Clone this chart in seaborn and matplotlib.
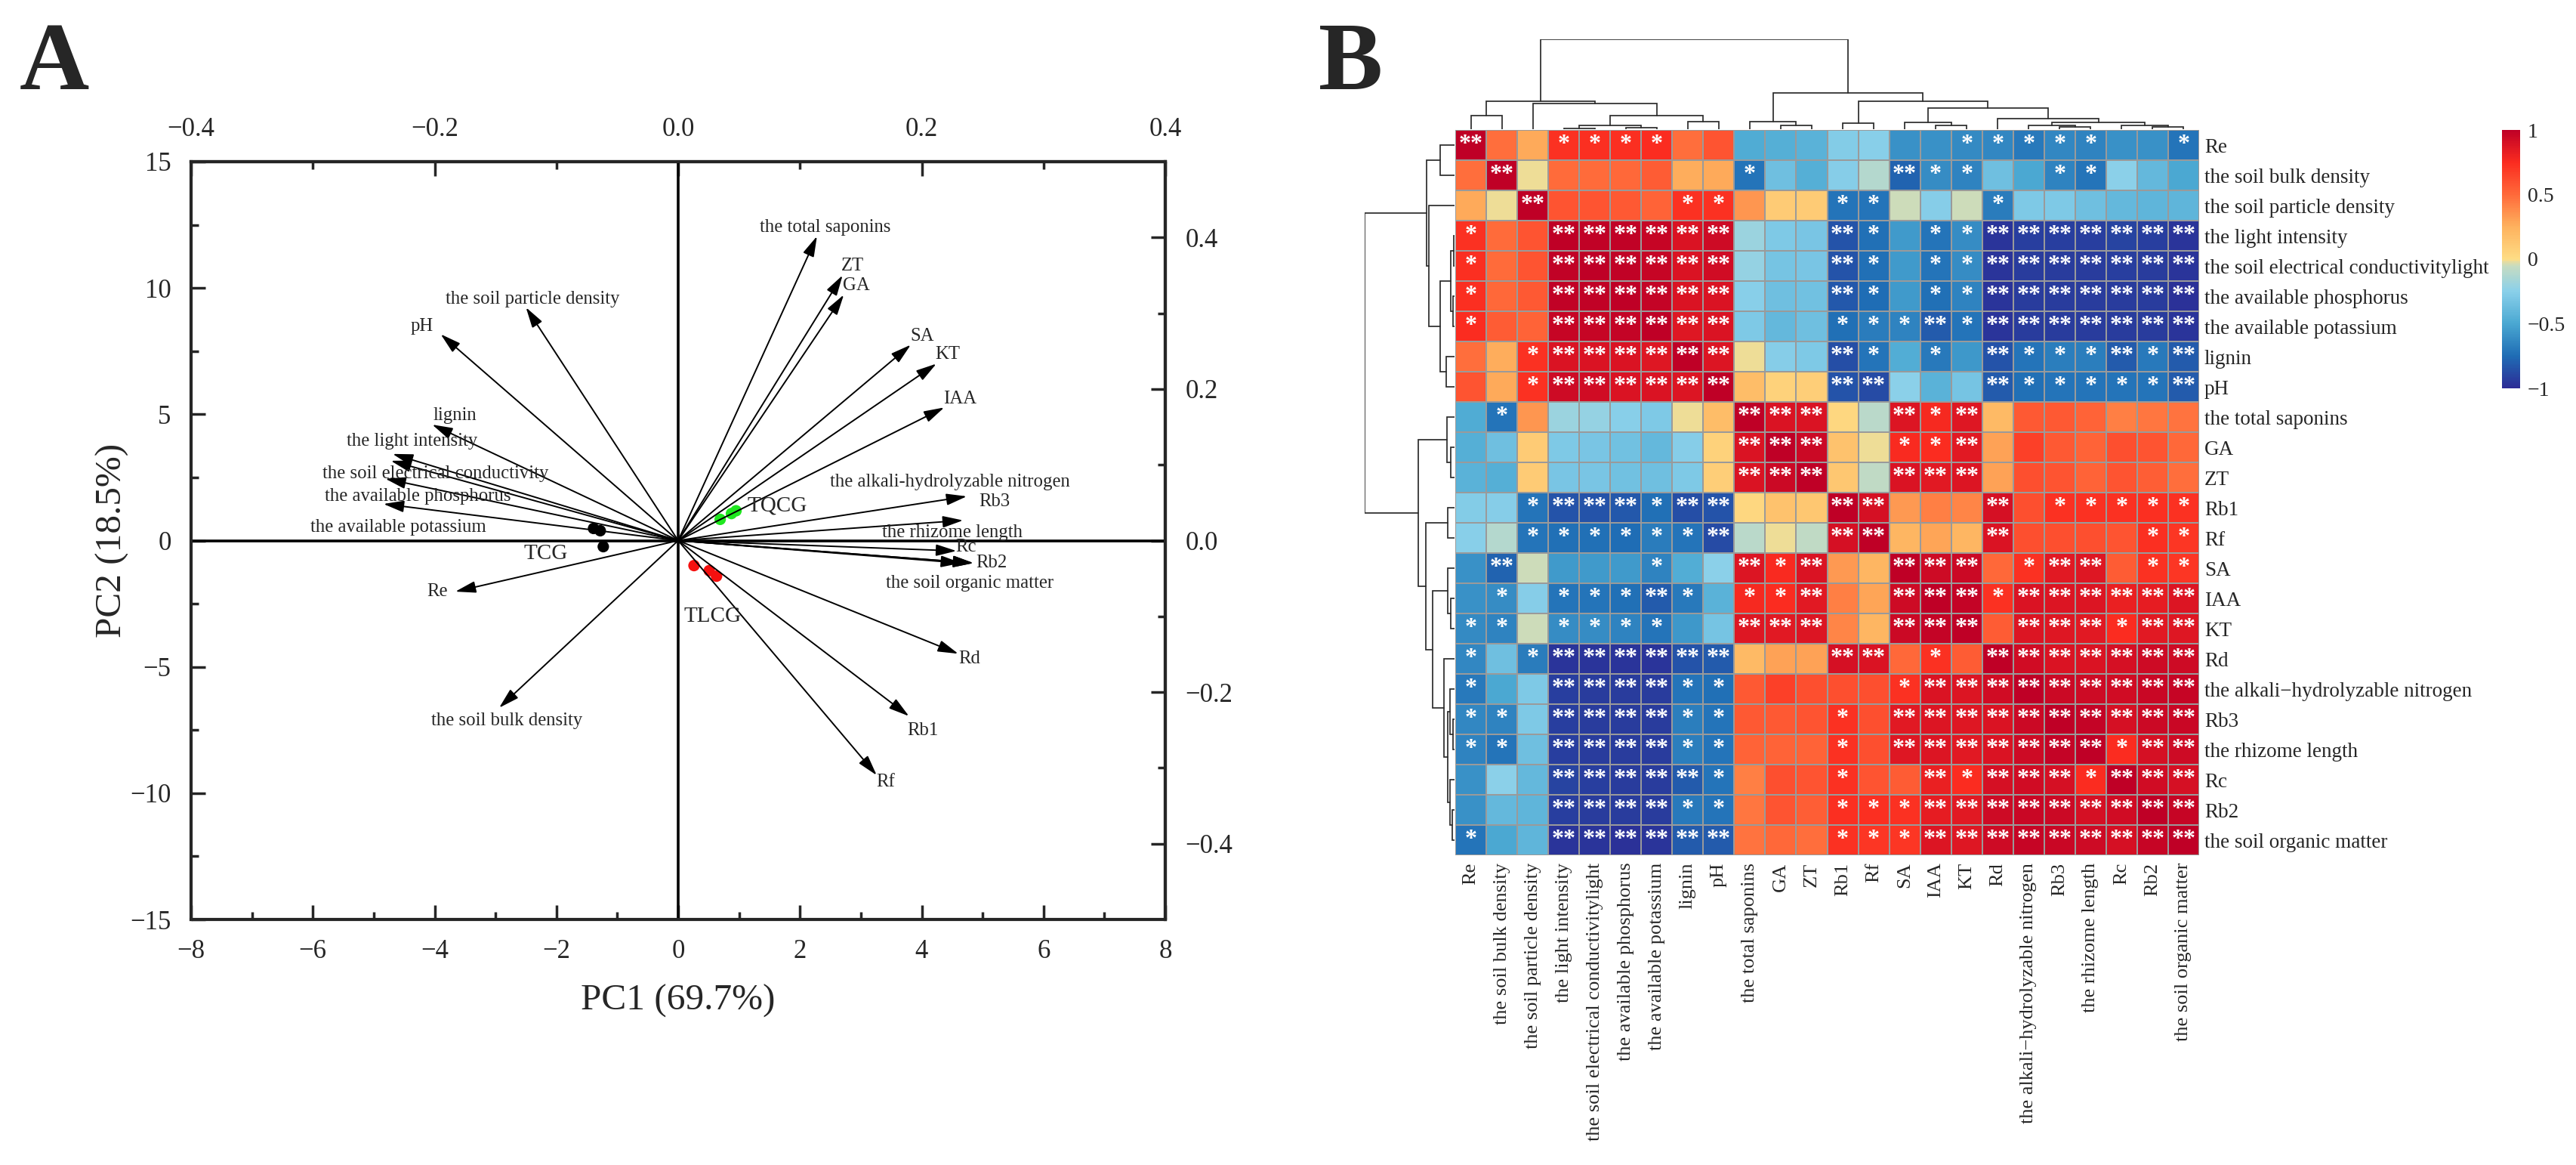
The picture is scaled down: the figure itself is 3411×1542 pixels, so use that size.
import numpy as np
import pandas as pd
import seaborn as sns
import matplotlib.pyplot as plt
from matplotlib.colors import LinearSegmentedColormap
from matplotlib.ticker import FixedLocator

# PCA loadings
var_names = ["Re", "the soil bulk density", "the soil particle density", "the light intensity",
             "the soil electrical conductivity", "the available phosphorus", "the available potassium",
             "lignin", "pH", "the total saponins", "GA", "ZT", "Rb1", "Rf", "SA", "IAA", "KT", "Rd",
             "the alkali-hydrolyzable nitrogen", "Rb3", "the rhizome length", "Rc", "Rb2",
             "the soil organic matter"]
load_pc1 = [-3.66, -2.94, -2.50, -4.69, -4.72, -4.81, -4.84, -4.04, -3.90, 2.28, 2.72, 2.70, 3.79, 3.26,
            3.82, 4.37, 4.24, 4.60, 4.74, 4.68, 4.57, 4.85, 4.85, 4.65]
load_pc2 = [-2.02, -6.62, 9.23, 3.43, 3.16, 2.45, 1.45, 4.59, 8.17, 12.05, 9.73, 10.50, -6.95, -9.29,
            7.75, 5.27, 7.00, -4.48, 1.75, 0.80, -0.41, -0.89, -0.89, -0.89]

# PCA scores
score_group = ["TCG", "TCG", "TCG", "TQCG", "TQCG", "TQCG", "TLCG", "TLCG", "TLCG"]
score_pc1 = [-1.39, -1.28, -1.23, 0.69, 0.875, 0.95, 0.26, 0.51, 0.63]
score_pc2 = [0.48, 0.39, -0.24, 0.84, 1.07, 1.18, -0.99, -1.19, -1.41]

# heatmap rows and columns, top to bottom
heat_names = ["Re", "the soil bulk density", "the soil particle density", "the light intensity",
              "the soil electrical conductivitylight", "the available phosphorus", "the available potassium",
              "lignin", "pH", "the total saponins", "GA", "ZT", "Rb1", "Rf", "SA", "IAA", "KT", "Rd",
              "the alkali\u2212hydrolyzable nitrogen", "Rb3", "the rhizome length", "Rc", "Rb2",
              "the soil organic matter"]
r_re = [1, .48, .27, .72, .73, .73, .74, .48, .58, -.48, -.46, -.44, -.28, -.26, -.6, -.6, -.63, -.64, -.7, -.64, -.66, -.6, -.6, -.72]
r_bulk = [.48, 1, -.02, .49, .49, .5, .55, .26, .27, -.72, -.36, -.46, -.27, -.12, -.78, -.62, -.66, -.36, -.5, -.66, -.72, -.25, -.4, -.5]
r_part = [.27, -.02, 1, .58, .58, .56, .52, .72, .72, .34, .1, .1, -.72, -.72, -.05, -.27, -.05, -.68, -.3, -.3, -.36, -.4, -.42, -.42]
r_light = [.72, .49, .58, 1, .98, .98, .96, .88, .93, -.2, -.3, -.32, -.85, -.74, -.55, -.72, -.62, -.97, -.92, -.92, -.92, -.9, -.92, -.97]
r_ec = [.73, .49, .58, .98, 1, .98, .96, .88, .92, -.22, -.33, -.32, -.85, -.74, -.55, -.72, -.62, -.97, -.93, -.93, -.93, -.92, -.93, -.97]
r_p = [.73, .5, .56, .98, .98, 1, .97, .88, .88, -.26, -.36, -.34, -.83, -.75, -.55, -.74, -.66, -.97, -.93, -.93, -.93, -.93, -.93, -.98]
r_k = [.74, .55, .52, .96, .96, .97, 1, .86, .88, -.3, -.4, -.36, -.74, -.68, -.66, -.82, -.72, -.97, -.94, -.94, -.94, -.93, -.94, -.97]
r_lignin = [.48, .26, .72, .88, .88, .88, .86, 1, .87, -.015, -.27, -.3, -.87, -.72, -.47, -.7, -.56, -.85, -.72, -.67, -.67, -.82, -.7, -.82]
r_ph = [.58, .27, .72, .93, .92, .88, .88, .87, 1, .18, .06, .08, -.85, -.88, -.25, -.44, -.33, -.82, -.74, -.72, -.72, -.72, -.72, -.82]
r_sap = [-.48, -.72, .34, -.2, -.22, -.26, -.3, -.015, .18, 1, .88, .88, .03, -.1, .87, .76, .86, .2, .56, .56, .52, .42, .45, .46]
r_ga = [-.46, -.36, .1, -.3, -.32, -.35, -.4, -.27, .06, .88, 1, .94, .16, -.02, .75, .74, .85, .3, .66, .56, .52, .6, .58, .5]
r_zt = [-.44, -.46, .1, -.32, -.32, -.34, -.36, -.3, .08, .88, .94, 1, .12, -.08, .88, .85, .87, .3, .6, .58, .52, .58, .54, .48]
r_rb1 = [-.28, -.27, -.72, -.85, -.85, -.83, -.74, -.87, -.85, .03, .16, .12, 1, .9, .33, .42, .4, .9, .6, .72, .72, .72, .73, .72]
r_rf = [-.26, -.12, -.72, -.74, -.74, -.75, -.68, -.72, -.88, -.1, -.02, -.08, .9, 1, .22, .29, .22, .88, .6, .6, .6, .58, .73, .7]
r_sa = [-.6, -.78, -.05, -.55, -.55, -.55, -.66, -.47, -.25, .87, .75, .88, .33, .22, 1, .93, .94, .5, .72, .85, .86, .55, .72, .7]
r_iaa = [-.6, -.62, -.27, -.72, -.72, -.74, -.82, -.7, -.44, .76, .74, .85, .42, .29, .93, 1, .97, .72, .88, .87, .87, .82, .83, .87]
r_kt = [-.63, -.66, -.05, -.62, -.62, -.66, -.72, -.56, -.33, .86, .85, .87, .4, .22, .94, .97, 1, .55, .87, .86, .85, .74, .85, .86]
r_rd = [-.64, -.36, -.68, -.97, -.97, -.97, -.97, -.85, -.82, .2, .3, .3, .9, .88, .5, .72, .55, 1, .92, .88, .88, .9, .93, .93]
r_alkali = [-.7, -.5, -.3, -.92, -.93, -.93, -.94, -.72, -.74, .56, .66, .6, .6, .6, .72, .88, .87, .92, 1, .94, .93, .92, .95, .96]
r_rb3 = [-.64, -.66, -.3, -.92, -.93, -.93, -.94, -.67, -.72, .56, .56, .58, .72, .6, .85, .87, .86, .88, .94, 1, .97, .9, .94, .95]
r_rhiz = [-.66, -.72, -.36, -.92, -.93, -.93, -.94, -.67, -.72, .52, .52, .52, .72, .6, .86, .87, .85, .88, .93, .97, 1, .74, .9, .93]
r_rc = [-.6, -.25, -.4, -.9, -.92, -.93, -.93, -.82, -.72, .42, .6, .58, .72, .58, .55, .82, .74, .9, .92, .9, .74, 1, .92, .9]
r_rb2 = [-.6, -.4, -.42, -.92, -.93, -.93, -.94, -.7, -.72, .45, .58, .54, .73, .73, .72, .83, .85, .93, .95, .94, .9, .92, 1, .96]
r_som = [-.72, -.5, -.42, -.97, -.97, -.98, -.97, -.82, -.82, .46, .5, .48, .72, .7, .7, .87, .86, .93, .96, .95, .93, .9, .96, 1]

# number of significance stars per cell, spaces only group the columns
s_re = "200 1111 00 000 00 001 1111001"
s_bulk = "020 0000 00 100 00 211 0011000"
s_part = "002 0000 11 000 11 000 1000000"
s_light = "100 2222 22 000 21 011 2222222"
s_ec = "100 2222 22 000 21 011 2222222"
s_p = "100 2222 22 000 21 011 2222222"
s_k = "100 2222 22 000 11 121 2222222"
s_lignin = "001 2222 22 000 21 010 2111212"
s_ph = "001 2222 22 000 22 000 2111112"
s_sap = "010 0000 00 222 00 212 0000000"
s_ga = "000 0000 00 222 00 112 0000000"
s_zt = "000 0000 00 222 00 222 0000000"
s_rb1 = "001 2221 22 000 22 000 2011111"
s_rf = "001 1111 12 000 22 000 2000011"
s_sa = "020 0001 00 212 00 222 0122011"
s_iaa = "010 1112 10 112 00 222 1222222"
s_kt = "110 1111 00 222 00 222 0222122"
s_rd = "101 2222 22 000 22 010 2222222"
s_alkali = "100 2222 11 000 00 122 2222222"
s_rb3 = "110 2222 11 000 10 222 2222222"
s_rhiz = "110 2222 11 000 10 222 2222122"
s_rc = "000 2222 21 000 10 021 2221222"
s_rb2 = "000 2222 11 000 11 122 2222222"
s_som = "100 2222 22 000 11 122 2222222"

# dendrogram: ids above 23 point at an earlier merge, same shape on both sides
merges = [(3, 4), (5, 6), (24, 25), (7, 8), (26, 27), (2, 28), (0, 1), (30, 29), (10, 11), (9, 32),
          (12, 13), (15, 16), (14, 35), (19, 20), (18, 37), (22, 23), (21, 39), (38, 40), (17, 41),
          (36, 42), (34, 43), (33, 44), (31, 45)]
col_heights = [.006, .017, .04, .085, .153, .283, .153, .308, .04, .08, .07, .04, .073, .023, .045, .023,
               .042, .073, .116, .232, .314, .40, 1.0]
row_heights = [.011, .02, .042, .093, .157, .287, .157, .312, .04, .084, .073, .04, .076, .02, .053, .022,
               .053, .079, .118, .242, .32, .404, 1.0]

corr = pd.DataFrame([r_re, r_bulk, r_part, r_light, r_ec, r_p, r_k, r_lignin, r_ph, r_sap, r_ga, r_zt,
                     r_rb1, r_rf, r_sa, r_iaa, r_kt, r_rd, r_alkali, r_rb3, r_rhiz, r_rc, r_rb2, r_som],
                    index=heat_names, columns=heat_names)
star_rows = [s_re, s_bulk, s_part, s_light, s_ec, s_p, s_k, s_lignin, s_ph, s_sap, s_ga, s_zt,
             s_rb1, s_rf, s_sa, s_iaa, s_kt, s_rd, s_alkali, s_rb3, s_rhiz, s_rc, s_rb2, s_som]
stars = np.array([["*" * int(c) for c in s.replace(" ", "")] for s in star_rows])
scores = pd.DataFrame({"pc1": score_pc1, "pc2": score_pc2, "group": score_group})

sns.set_style("ticks")
plt.rcParams["font.family"] = ["Liberation Serif", "DejaVu Serif"]

W, H = 3411, 1542
fig = plt.figure(figsize=(W / 100, H / 100), dpi=100)


def rect(left, top, right, bottom):
    # pixel box to figure fractions
    return [left / W, 1 - bottom / H, (right - left) / W, (bottom - top) / H]


# ---------- panel A ----------
ax = fig.add_axes(rect(253, 214, 1543, 1217))
sns.scatterplot(data=scores, x="pc1", y="pc2", hue="group", ax=ax, s=120, linewidth=0, legend=False, zorder=2,
                palette={"TCG": "black", "TQCG": "#1fe81f", "TLCG": "#f5100f"})
ax.axhline(0, color="black", lw=2.6, zorder=1)
ax.axvline(0, color="black", lw=2.6, zorder=1)
for px, py in zip(load_pc1, load_pc2):
    ax.annotate("", xy=(px, py), xytext=(0, 0), zorder=3,
                arrowprops=dict(arrowstyle="-|>,head_length=1.65,head_width=0.47", color="black", lw=1.4,
                                shrinkA=0, shrinkB=0, mutation_scale=10))

# label anchors, centred
label_pos = {"Re": (-3.95, -2.02), "the soil bulk density": (-2.81, -7.13), "the soil particle density": (-2.39, 9.56),
             "the light intensity": (-4.37, 3.92), "the soil electrical conductivity": (-3.98, 2.65),
             "the available phosphorus": (-4.27, 1.76), "the available potassium": (-4.6, 0.52),
             "lignin": (-3.67, 4.94), "pH": (-4.21, 8.49), "the total saponins": (2.41, 12.4), "GA": (2.93, 10.08),
             "ZT": (2.87, 10.88), "Rb1": (4.02, -7.52), "Rf": (3.41, -9.56), "SA": (4.01, 8.09), "IAA": (4.63, 5.62),
             "KT": (4.42, 7.36), "Rd": (4.79, -4.68), "the alkali-hydrolyzable nitrogen": (4.46, 2.33),
             "Rb3": (5.19, 1.53), "the rhizome length": (4.5, 0.3), "Rc": (4.73, -0.26), "Rb2": (5.15, -0.89),
             "the soil organic matter": (4.79, -1.69)}
for name in var_names:
    ax.text(*label_pos[name], name, fontsize=17.8, ha="center", va="center", zorder=4)
ax.text(-2.18, -0.52, "TCG", fontsize=21, ha="center", va="center")
ax.text(0.57, -3.0, "TLCG", fontsize=21, ha="center", va="center")
ax.text(1.63, 1.39, "TQCG", fontsize=21, ha="center", va="center")

ax.set_xlim(-8, 8)
ax.set_ylim(-15, 15)
ax.set_xticks(np.arange(-8, 9, 2))
ax.set_xticks(np.arange(-8, 9, 1), minor=True)
ax.set_yticks(np.arange(-15, 16, 5))
ax.set_yticks(np.arange(-15, 16, 2.5), minor=True)
ax.set_xlabel("PC1 (69.7%)", fontsize=35.5, va="center")
ax.set_ylabel("PC2 (18.5%)", fontsize=35.5, va="center")
ax.xaxis.set_label_coords(0.5, -0.108)
ax.yaxis.set_label_coords(-0.081, 0.5)

sec_x = ax.secondary_xaxis("top", functions=(lambda v: v / 20, lambda v: v * 20))
sec_y = ax.secondary_yaxis("right", functions=(lambda v: v / 30, lambda v: v * 30))
top_major = [-0.4, -0.2, 0, 0.2, 0.4]
top_minor = [-0.3, -0.1, 0.1, 0.3]
for sec in (sec_x, sec_y):
    target = sec.xaxis if sec is sec_x else sec.yaxis
    target.set_major_locator(FixedLocator(top_major))
    target.set_minor_locator(FixedLocator(top_minor))
    for s in sec.spines.values():
        s.set_linewidth(3)
    sec.tick_params(which="major", direction="in", length=14, width=2.5, labelsize=25, pad=19)
    sec.tick_params(which="minor", direction="in", length=7, width=2.5)
sec_x.xaxis.set_major_formatter(lambda v, p: f"{v:.1f}".replace("-", "\u2212"))
sec_y.yaxis.set_major_formatter(lambda v, p: f"{v:.1f}".replace("-", "\u2212"))
for s in ax.spines.values():
    s.set_linewidth(3)
ax.tick_params(which="major", direction="in", length=14, width=2.5, labelsize=25, pad=19)
ax.tick_params(which="minor", direction="in", length=7, width=2.5)

fig.text(26 / W, 1 - 118 / H, "A", fontsize=92, fontweight="bold", ha="left", va="baseline")
fig.text(1746 / W, 1 - 118 / H, "B", fontsize=92, fontweight="bold", ha="left", va="baseline")

# ---------- panel B ----------
cmap = LinearSegmentedColormap.from_list("corr", [
    (0.0, "#2c2c96"), (0.125, "#1f6db5"), (0.25, "#4aa8d2"), (0.375, "#8ad0ea"), (0.475, "#c8dcc0"),
    (0.5, "#fedd85"), (0.625, "#feb25e"), (0.75, "#ff6a3a"), (0.875, "#fb2c20"), (1.0, "#bf0026")], N=200)

hm = fig.add_axes(rect(1927, 172, 2912, 1132))
cb = fig.add_axes(rect(3313, 172, 3337, 514))
sns.heatmap(corr, ax=hm, cbar_ax=cb, cmap=cmap, vmin=-1, vmax=1, annot=stars, fmt="",
            annot_kws={"color": "white", "fontsize": 23, "fontweight": "bold"},
            linewidths=1.1, linecolor="#9a9a9a", xticklabels=True, yticklabels=True)
hm.yaxis.tick_right()
hm.tick_params(axis="y", length=0, labelsize=19.5, labelrotation=0, pad=5)
hm.tick_params(axis="x", length=0, labelsize=19, labelrotation=90, pad=7)
hm.set_xlabel("")
hm.set_ylabel("")
cb.set_yticks([-1, -0.5, 0, 0.5, 1], labels=["\u22121", "\u22120.5", "0", "0.5", "1"])
cb.tick_params(length=0, labelsize=20, pad=7)
hm.collections[0].colorbar.outline.set_visible(False)

# ---------- dendrograms ----------
top_dn = fig.add_axes(rect(1927, 52, 2912, 171))
left_dn = fig.add_axes(rect(1807, 172, 1926, 1132))


def draw_tree(axis, heights, horizontal):
    pos = {i: i + 0.5 for i in range(len(heat_names))}
    lev = {i: 0.0 for i in range(len(heat_names))}
    for k, ((a, b), h) in enumerate(zip(merges, heights)):
        xs = [pos[a], pos[a], pos[b], pos[b]]
        ys = [lev[a], h, h, lev[b]]
        if horizontal:
            axis.plot(xs, ys, color="#2b2b2b", lw=1.25, solid_joinstyle="miter")
        else:
            axis.plot(ys, xs, color="#2b2b2b", lw=1.25, solid_joinstyle="miter")
        node = len(heat_names) + k
        pos[node] = (pos[a] + pos[b]) / 2
        lev[node] = h


draw_tree(top_dn, col_heights, True)
draw_tree(left_dn, row_heights, False)
top_dn.set_xlim(0, 24)
top_dn.set_ylim(0, 1)
left_dn.set_ylim(24, 0)
left_dn.set_xlim(1, 0)
top_dn.axis("off")
left_dn.axis("off")

fig.savefig("out.png", dpi=100)
